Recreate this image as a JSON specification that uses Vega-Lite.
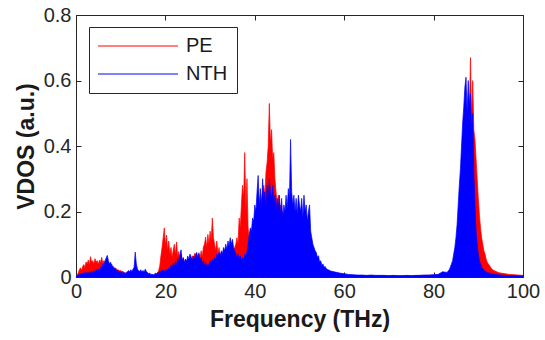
{
"$schema":"https://vega.github.io/schema/vega-lite/v6.json",
"width":447,"height":262,
"autosize":{"type":"none"},
"padding":{"left":76,"top":15,"right":22,"bottom":63},
"background":"white",
"config":{"view":{"stroke":null},"font":"Liberation Sans",
 "axis":{"grid":false,"domainColor":"#262626","domainWidth":1,"tickColor":"#262626","tickWidth":1,"labelColor":"#262626","labelFont":"Liberation Sans","labelFontSize":20,"titleFont":"Liberation Sans","titleFontSize":23,"titleFontWeight":"bold","titleColor":"#1a1a1a"},
 "legend":{"orient":"none","legendX":13,"legendY":12,"direction":"vertical","title":null,"symbolType":"M-1,-0.0125L1,-0.0125L1,0.0125L-1,0.0125Z","symbolSize":6400,"symbolStrokeWidth":0,"clipHeight":20,"rowPadding":8,"labelFontSize":20,"labelFont":"Liberation Sans","labelColor":"#1a1a1a","labelOffset":8,"padding":9,"strokeColor":"#262626","fillColor":"white","cornerRadius":0}},
"data":{"values":[
{"f":0,"PE":0.002,"NTH":0.002},{"f":0.25,"PE":0.006,"NTH":0.004},{"f":0.5,"PE":0.012,"NTH":0.006},{"f":0.75,"PE":0.022,"NTH":0.008},
{"f":1,"PE":0.028,"NTH":0.01},{"f":1.25,"PE":0.02,"NTH":0.008},{"f":1.5,"PE":0.032,"NTH":0.012},{"f":1.75,"PE":0.038,"NTH":0.01},
{"f":2,"PE":0.028,"NTH":0.015},{"f":2.25,"PE":0.046,"NTH":0.012},{"f":2.5,"PE":0.04,"NTH":0.014},{"f":2.75,"PE":0.052,"NTH":0.01},
{"f":3,"PE":0.036,"NTH":0.016},{"f":3.25,"PE":0.062,"NTH":0.012},{"f":3.5,"PE":0.045,"NTH":0.018},{"f":3.75,"PE":0.05,"NTH":0.014},
{"f":4,"PE":0.04,"NTH":0.02},{"f":4.25,"PE":0.056,"NTH":0.015},{"f":4.5,"PE":0.045,"NTH":0.022},{"f":4.75,"PE":0.05,"NTH":0.018},
{"f":5,"PE":0.038,"NTH":0.025},{"f":5.25,"PE":0.052,"NTH":0.02},{"f":5.5,"PE":0.044,"NTH":0.03},{"f":5.75,"PE":0.06,"NTH":0.028},
{"f":6,"PE":0.042,"NTH":0.04},{"f":6.25,"PE":0.05,"NTH":0.035},{"f":6.5,"PE":0.036,"NTH":0.05},{"f":6.75,"PE":0.045,"NTH":0.058},
{"f":7,"PE":0.032,"NTH":0.066},{"f":7.25,"PE":0.042,"NTH":0.05},{"f":7.5,"PE":0.036,"NTH":0.04},{"f":7.75,"PE":0.03,"NTH":0.045},
{"f":8,"PE":0.04,"NTH":0.03},{"f":8.25,"PE":0.026,"NTH":0.034},{"f":8.5,"PE":0.03,"NTH":0.024},{"f":8.75,"PE":0.022,"NTH":0.028},
{"f":9,"PE":0.026,"NTH":0.018},{"f":9.25,"PE":0.02,"NTH":0.022},{"f":9.5,"PE":0.022,"NTH":0.016},{"f":9.75,"PE":0.018,"NTH":0.018},
{"f":10,"PE":0.02,"NTH":0.013},{"f":10.25,"PE":0.015,"NTH":0.016},{"f":10.5,"PE":0.018,"NTH":0.011},{"f":10.75,"PE":0.012,"NTH":0.014},
{"f":11,"PE":0.014,"NTH":0.01},{"f":11.25,"PE":0.01,"NTH":0.014},{"f":11.5,"PE":0.012,"NTH":0.016},{"f":11.75,"PE":0.01,"NTH":0.02},
{"f":12,"PE":0.009,"NTH":0.015},{"f":12.25,"PE":0.012,"NTH":0.022},{"f":12.5,"PE":0.01,"NTH":0.017},{"f":12.75,"PE":0.012,"NTH":0.024},
{"f":13,"PE":0.01,"NTH":0.03},{"f":13.25,"PE":0.012,"NTH":0.076},{"f":13.5,"PE":0.01,"NTH":0.04},{"f":13.75,"PE":0.012,"NTH":0.024},
{"f":14,"PE":0.01,"NTH":0.02},{"f":14.25,"PE":0.011,"NTH":0.017},{"f":14.5,"PE":0.009,"NTH":0.022},{"f":14.75,"PE":0.01,"NTH":0.015},
{"f":15,"PE":0.008,"NTH":0.02},{"f":15.25,"PE":0.009,"NTH":0.015},{"f":15.5,"PE":0.008,"NTH":0.024},{"f":15.75,"PE":0.007,"NTH":0.017},
{"f":16,"PE":0.007,"NTH":0.014},{"f":16.25,"PE":0.006,"NTH":0.01},{"f":16.5,"PE":0.006,"NTH":0.012},{"f":16.75,"PE":0.005,"NTH":0.007},
{"f":17,"PE":0.005,"NTH":0.009},{"f":17.25,"PE":0.005,"NTH":0.006},{"f":17.5,"PE":0.006,"NTH":0.008},{"f":17.75,"PE":0.007,"NTH":0.012},
{"f":18,"PE":0.008,"NTH":0.009},{"f":18.25,"PE":0.012,"NTH":0.014},{"f":18.5,"PE":0.02,"NTH":0.011},{"f":18.75,"PE":0.035,"NTH":0.018},
{"f":19,"PE":0.065,"NTH":0.015},{"f":19.25,"PE":0.09,"NTH":0.022},{"f":19.5,"PE":0.12,"NTH":0.018},{"f":19.75,"PE":0.15,"NTH":0.02},
{"f":20,"PE":0.095,"NTH":0.016},{"f":20.25,"PE":0.128,"NTH":0.024},{"f":20.5,"PE":0.08,"NTH":0.018},{"f":20.75,"PE":0.11,"NTH":0.028},
{"f":21,"PE":0.07,"NTH":0.022},{"f":21.25,"PE":0.09,"NTH":0.036},{"f":21.5,"PE":0.06,"NTH":0.028},{"f":21.75,"PE":0.082,"NTH":0.042},
{"f":22,"PE":0.1,"NTH":0.032},{"f":22.25,"PE":0.068,"NTH":0.048},{"f":22.5,"PE":0.107,"NTH":0.038},{"f":22.75,"PE":0.06,"NTH":0.058},
{"f":23,"PE":0.078,"NTH":0.044},{"f":23.25,"PE":0.05,"NTH":0.068},{"f":23.5,"PE":0.07,"NTH":0.083},{"f":23.75,"PE":0.046,"NTH":0.05},
{"f":24,"PE":0.06,"NTH":0.058},{"f":24.25,"PE":0.04,"NTH":0.044},{"f":24.5,"PE":0.055,"NTH":0.054},{"f":24.75,"PE":0.04,"NTH":0.048},
{"f":25,"PE":0.05,"NTH":0.064},{"f":25.25,"PE":0.035,"NTH":0.054},{"f":25.5,"PE":0.045,"NTH":0.07},{"f":25.75,"PE":0.05,"NTH":0.06},
{"f":26,"PE":0.065,"NTH":0.05},{"f":26.25,"PE":0.05,"NTH":0.064},{"f":26.5,"PE":0.072,"NTH":0.054},{"f":26.75,"PE":0.055,"NTH":0.07},
{"f":27,"PE":0.062,"NTH":0.075},{"f":27.25,"PE":0.05,"NTH":0.06},{"f":27.5,"PE":0.07,"NTH":0.074},{"f":27.75,"PE":0.056,"NTH":0.05},
{"f":28,"PE":0.08,"NTH":0.06},{"f":28.25,"PE":0.062,"NTH":0.04},{"f":28.5,"PE":0.092,"NTH":0.05},{"f":28.75,"PE":0.1,"NTH":0.035},
{"f":29,"PE":0.122,"NTH":0.045},{"f":29.25,"PE":0.09,"NTH":0.03},{"f":29.5,"PE":0.13,"NTH":0.04},{"f":29.75,"PE":0.1,"NTH":0.034},
{"f":30,"PE":0.14,"NTH":0.05},{"f":30.25,"PE":0.11,"NTH":0.04},{"f":30.5,"PE":0.18,"NTH":0.055},{"f":30.75,"PE":0.12,"NTH":0.045},
{"f":31,"PE":0.1,"NTH":0.06},{"f":31.25,"PE":0.08,"NTH":0.05},{"f":31.5,"PE":0.11,"NTH":0.07},{"f":31.75,"PE":0.07,"NTH":0.06},
{"f":32,"PE":0.09,"NTH":0.075},{"f":32.25,"PE":0.06,"NTH":0.064},{"f":32.5,"PE":0.07,"NTH":0.08},{"f":32.75,"PE":0.05,"NTH":0.07},
{"f":33,"PE":0.06,"NTH":0.09},{"f":33.25,"PE":0.045,"NTH":0.08},{"f":33.5,"PE":0.05,"NTH":0.1},{"f":33.75,"PE":0.055,"NTH":0.085},
{"f":34,"PE":0.05,"NTH":0.11},{"f":34.25,"PE":0.06,"NTH":0.095},{"f":34.5,"PE":0.055,"NTH":0.12},{"f":34.75,"PE":0.07,"NTH":0.1},
{"f":35,"PE":0.065,"NTH":0.115},{"f":35.25,"PE":0.08,"NTH":0.09},{"f":35.5,"PE":0.09,"NTH":0.08},{"f":35.75,"PE":0.1,"NTH":0.07},
{"f":36,"PE":0.12,"NTH":0.06},{"f":36.25,"PE":0.1,"NTH":0.07},{"f":36.5,"PE":0.18,"NTH":0.055},{"f":36.75,"PE":0.15,"NTH":0.065},
{"f":37,"PE":0.22,"NTH":0.05},{"f":37.25,"PE":0.28,"NTH":0.06},{"f":37.5,"PE":0.24,"NTH":0.05},{"f":37.75,"PE":0.38,"NTH":0.07},
{"f":38,"PE":0.2,"NTH":0.06},{"f":38.25,"PE":0.3,"NTH":0.08},{"f":38.5,"PE":0.15,"NTH":0.1},{"f":38.75,"PE":0.11,"NTH":0.13},
{"f":39,"PE":0.09,"NTH":0.15},{"f":39.25,"PE":0.07,"NTH":0.14},{"f":39.5,"PE":0.06,"NTH":0.18},{"f":39.75,"PE":0.08,"NTH":0.17},
{"f":40,"PE":0.1,"NTH":0.22},{"f":40.25,"PE":0.12,"NTH":0.2},{"f":40.5,"PE":0.15,"NTH":0.26},{"f":40.75,"PE":0.18,"NTH":0.31},
{"f":41,"PE":0.2,"NTH":0.22},{"f":41.25,"PE":0.22,"NTH":0.27},{"f":41.5,"PE":0.24,"NTH":0.2},{"f":41.75,"PE":0.26,"NTH":0.3},
{"f":42,"PE":0.28,"NTH":0.23},{"f":42.25,"PE":0.25,"NTH":0.26},{"f":42.5,"PE":0.32,"NTH":0.21},{"f":42.75,"PE":0.35,"NTH":0.28},
{"f":43,"PE":0.4,"NTH":0.24},{"f":43.25,"PE":0.53,"NTH":0.3},{"f":43.5,"PE":0.41,"NTH":0.26},{"f":43.75,"PE":0.45,"NTH":0.24},
{"f":44,"PE":0.36,"NTH":0.28},{"f":44.25,"PE":0.38,"NTH":0.22},{"f":44.5,"PE":0.3,"NTH":0.25},{"f":44.75,"PE":0.26,"NTH":0.2},
{"f":45,"PE":0.22,"NTH":0.24},{"f":45.25,"PE":0.25,"NTH":0.21},{"f":45.5,"PE":0.2,"NTH":0.25},{"f":45.75,"PE":0.22,"NTH":0.19},
{"f":46,"PE":0.18,"NTH":0.24},{"f":46.25,"PE":0.2,"NTH":0.18},{"f":46.5,"PE":0.16,"NTH":0.22},{"f":46.75,"PE":0.17,"NTH":0.2},
{"f":47,"PE":0.15,"NTH":0.25},{"f":47.25,"PE":0.16,"NTH":0.21},{"f":47.5,"PE":0.14,"NTH":0.27},{"f":47.75,"PE":0.15,"NTH":0.24},
{"f":48,"PE":0.13,"NTH":0.42},{"f":48.25,"PE":0.14,"NTH":0.26},{"f":48.5,"PE":0.12,"NTH":0.22},{"f":48.75,"PE":0.13,"NTH":0.25},
{"f":49,"PE":0.11,"NTH":0.2},{"f":49.25,"PE":0.12,"NTH":0.24},{"f":49.5,"PE":0.1,"NTH":0.19},{"f":49.75,"PE":0.11,"NTH":0.25},
{"f":50,"PE":0.1,"NTH":0.22},{"f":50.25,"PE":0.09,"NTH":0.2},{"f":50.5,"PE":0.1,"NTH":0.24},{"f":50.75,"PE":0.085,"NTH":0.18},
{"f":51,"PE":0.09,"NTH":0.25},{"f":51.25,"PE":0.08,"NTH":0.2},{"f":51.5,"PE":0.085,"NTH":0.22},{"f":51.75,"PE":0.07,"NTH":0.17},
{"f":52,"PE":0.075,"NTH":0.2},{"f":52.25,"PE":0.065,"NTH":0.22},{"f":52.5,"PE":0.06,"NTH":0.14},{"f":52.75,"PE":0.055,"NTH":0.12},
{"f":53,"PE":0.05,"NTH":0.1},{"f":53.25,"PE":0.045,"NTH":0.09},{"f":53.5,"PE":0.04,"NTH":0.08},{"f":53.75,"PE":0.038,"NTH":0.075},
{"f":54,"PE":0.032,"NTH":0.06},{"f":54.25,"PE":0.03,"NTH":0.065},{"f":54.5,"PE":0.026,"NTH":0.045},{"f":54.75,"PE":0.024,"NTH":0.05},
{"f":55,"PE":0.02,"NTH":0.035},{"f":55.25,"PE":0.019,"NTH":0.04},{"f":55.5,"PE":0.017,"NTH":0.03},{"f":55.75,"PE":0.016,"NTH":0.032},
{"f":56,"PE":0.014,"NTH":0.025},{"f":57,"PE":0.011,"NTH":0.018},{"f":58,"PE":0.009,"NTH":0.015},{"f":59,"PE":0.007,"NTH":0.012},
{"f":60,"PE":0.006,"NTH":0.01},{"f":61,"PE":0.005,"NTH":0.008},{"f":62,"PE":0.004,"NTH":0.007},{"f":63,"PE":0.004,"NTH":0.006},
{"f":64,"PE":0.004,"NTH":0.006},{"f":65,"PE":0.004,"NTH":0.005},{"f":66,"PE":0.004,"NTH":0.006},{"f":67,"PE":0.004,"NTH":0.005},
{"f":68,"PE":0.004,"NTH":0.005},{"f":69,"PE":0.004,"NTH":0.005},{"f":70,"PE":0.004,"NTH":0.004},{"f":71,"PE":0.004,"NTH":0.005},
{"f":72,"PE":0.004,"NTH":0.004},{"f":73,"PE":0.004,"NTH":0.004},{"f":74,"PE":0.004,"NTH":0.005},{"f":75,"PE":0.004,"NTH":0.004},
{"f":76,"PE":0.004,"NTH":0.005},{"f":77,"PE":0.005,"NTH":0.005},{"f":78,"PE":0.005,"NTH":0.006},{"f":79,"PE":0.005,"NTH":0.006},
{"f":80,"PE":0.006,"NTH":0.007},{"f":81,"PE":0.006,"NTH":0.008},{"f":82,"PE":0.008,"NTH":0.016},{"f":83,"PE":0.01,"NTH":0.014},
{"f":83.25,"PE":0.012,"NTH":0.018},{"f":83.5,"PE":0.014,"NTH":0.022},{"f":83.75,"PE":0.016,"NTH":0.03},{"f":84,"PE":0.02,"NTH":0.04},
{"f":84.25,"PE":0.024,"NTH":0.05},{"f":84.5,"PE":0.03,"NTH":0.07},{"f":84.75,"PE":0.04,"NTH":0.09},{"f":85,"PE":0.05,"NTH":0.12},
{"f":85.25,"PE":0.07,"NTH":0.16},{"f":85.5,"PE":0.09,"NTH":0.22},{"f":85.75,"PE":0.12,"NTH":0.28},{"f":86,"PE":0.15,"NTH":0.33},
{"f":86.25,"PE":0.2,"NTH":0.4},{"f":86.5,"PE":0.25,"NTH":0.47},{"f":86.75,"PE":0.3,"NTH":0.52},{"f":87,"PE":0.35,"NTH":0.58},
{"f":87.25,"PE":0.4,"NTH":0.61},{"f":87.5,"PE":0.45,"NTH":0.5},{"f":87.75,"PE":0.52,"NTH":0.6},{"f":88,"PE":0.5,"NTH":0.52},
{"f":88.25,"PE":0.67,"NTH":0.56},{"f":88.5,"PE":0.48,"NTH":0.45},{"f":88.75,"PE":0.6,"NTH":0.5},{"f":89,"PE":0.45,"NTH":0.32},
{"f":89.25,"PE":0.42,"NTH":0.22},{"f":89.5,"PE":0.36,"NTH":0.14},{"f":89.75,"PE":0.3,"NTH":0.1},{"f":90,"PE":0.24,"NTH":0.07},
{"f":90.25,"PE":0.19,"NTH":0.05},{"f":90.5,"PE":0.15,"NTH":0.04},{"f":90.75,"PE":0.12,"NTH":0.03},{"f":91,"PE":0.1,"NTH":0.025},
{"f":91.25,"PE":0.08,"NTH":0.021},{"f":91.5,"PE":0.07,"NTH":0.018},{"f":91.75,"PE":0.055,"NTH":0.016},{"f":92,"PE":0.045,"NTH":0.014},
{"f":92.25,"PE":0.04,"NTH":0.013},{"f":92.5,"PE":0.035,"NTH":0.012},{"f":92.75,"PE":0.03,"NTH":0.011},{"f":93,"PE":0.025,"NTH":0.01},
{"f":93.25,"PE":0.022,"NTH":0.009},{"f":93.5,"PE":0.02,"NTH":0.009},{"f":93.75,"PE":0.018,"NTH":0.008},{"f":94,"PE":0.017,"NTH":0.008},
{"f":94.25,"PE":0.015,"NTH":0.007},{"f":94.5,"PE":0.014,"NTH":0.007},{"f":94.75,"PE":0.013,"NTH":0.006},{"f":95,"PE":0.012,"NTH":0.006},
{"f":96,"PE":0.01,"NTH":0.005},{"f":97,"PE":0.008,"NTH":0.004},{"f":98,"PE":0.007,"NTH":0.004},{"f":99,"PE":0.006,"NTH":0.003},
{"f":100,"PE":0.005,"NTH":0.003}
]},
"transform":[{"fold":["PE","NTH"],"as":["series","v"]}],
"layer":[
{"transform":[{"filter":"datum.series === 'PE'"}],
 "mark":{"type":"area","interpolate":"linear","opacity":1},
 "encoding":{
  "x":{"field":"f","type":"quantitative","scale":{"domain":[0,100],"nice":false},
   "axis":{"orient":"bottom","values":[0,20,40,60,80,100],"tickSize":-5,"labelPadding":9,"labelFlush":false,"title":"Frequency (THz)","titlePadding":7}},
  "y":{"field":"v","type":"quantitative","stack":null,"scale":{"domain":[0,0.8],"nice":false},
   "axis":{"orient":"left","values":[0,0.2,0.4,0.6,0.8],"tickSize":-5,"labelPadding":10,"labelExpr":"datum.value === 0 ? '0' : format(datum.value, '.1f')","title":"VDOS (a.u.)","titlePadding":5}},
  "color":{"field":"series","type":"nominal","scale":{"domain":["PE","NTH"],"range":["#ff0000","#0000ff"]},
   "legend":{"encode":{"symbols":{"update":{"fill":{"field":"value","scale":"color"},"stroke":{"value":"transparent"},"strokeWidth":{"value":0}}}}}}
 }},
{"transform":[{"filter":"datum.series === 'PE'"}],
 "mark":{"type":"line","strokeWidth":0.7,"interpolate":"linear"},
 "encoding":{
  "x":{"field":"f","type":"quantitative","axis":null},
  "y":{"field":"v","type":"quantitative","axis":null},
  "color":{"field":"series","type":"nominal"}
 }},
{"transform":[{"filter":"datum.series === 'NTH'"}],
 "mark":{"type":"area","interpolate":"linear","opacity":1},
 "encoding":{
  "x":{"field":"f","type":"quantitative",
   "axis":{"orient":"top","values":[0,20,40,60,80,100],"tickSize":-5,"labels":false,"title":null}},
  "y":{"field":"v","type":"quantitative","stack":null,
   "axis":{"orient":"right","values":[0,0.2,0.4,0.6,0.8],"tickSize":-5,"labels":false,"title":null}},
  "color":{"field":"series","type":"nominal"}
 }},
{"transform":[{"filter":"datum.series === 'NTH'"}],
 "mark":{"type":"line","strokeWidth":0.7,"interpolate":"linear"},
 "encoding":{
  "x":{"field":"f","type":"quantitative","axis":null},
  "y":{"field":"v","type":"quantitative","axis":null},
  "color":{"field":"series","type":"nominal"}
 }}
],
"resolve":{"axis":{"x":"independent","y":"independent"}}
}
